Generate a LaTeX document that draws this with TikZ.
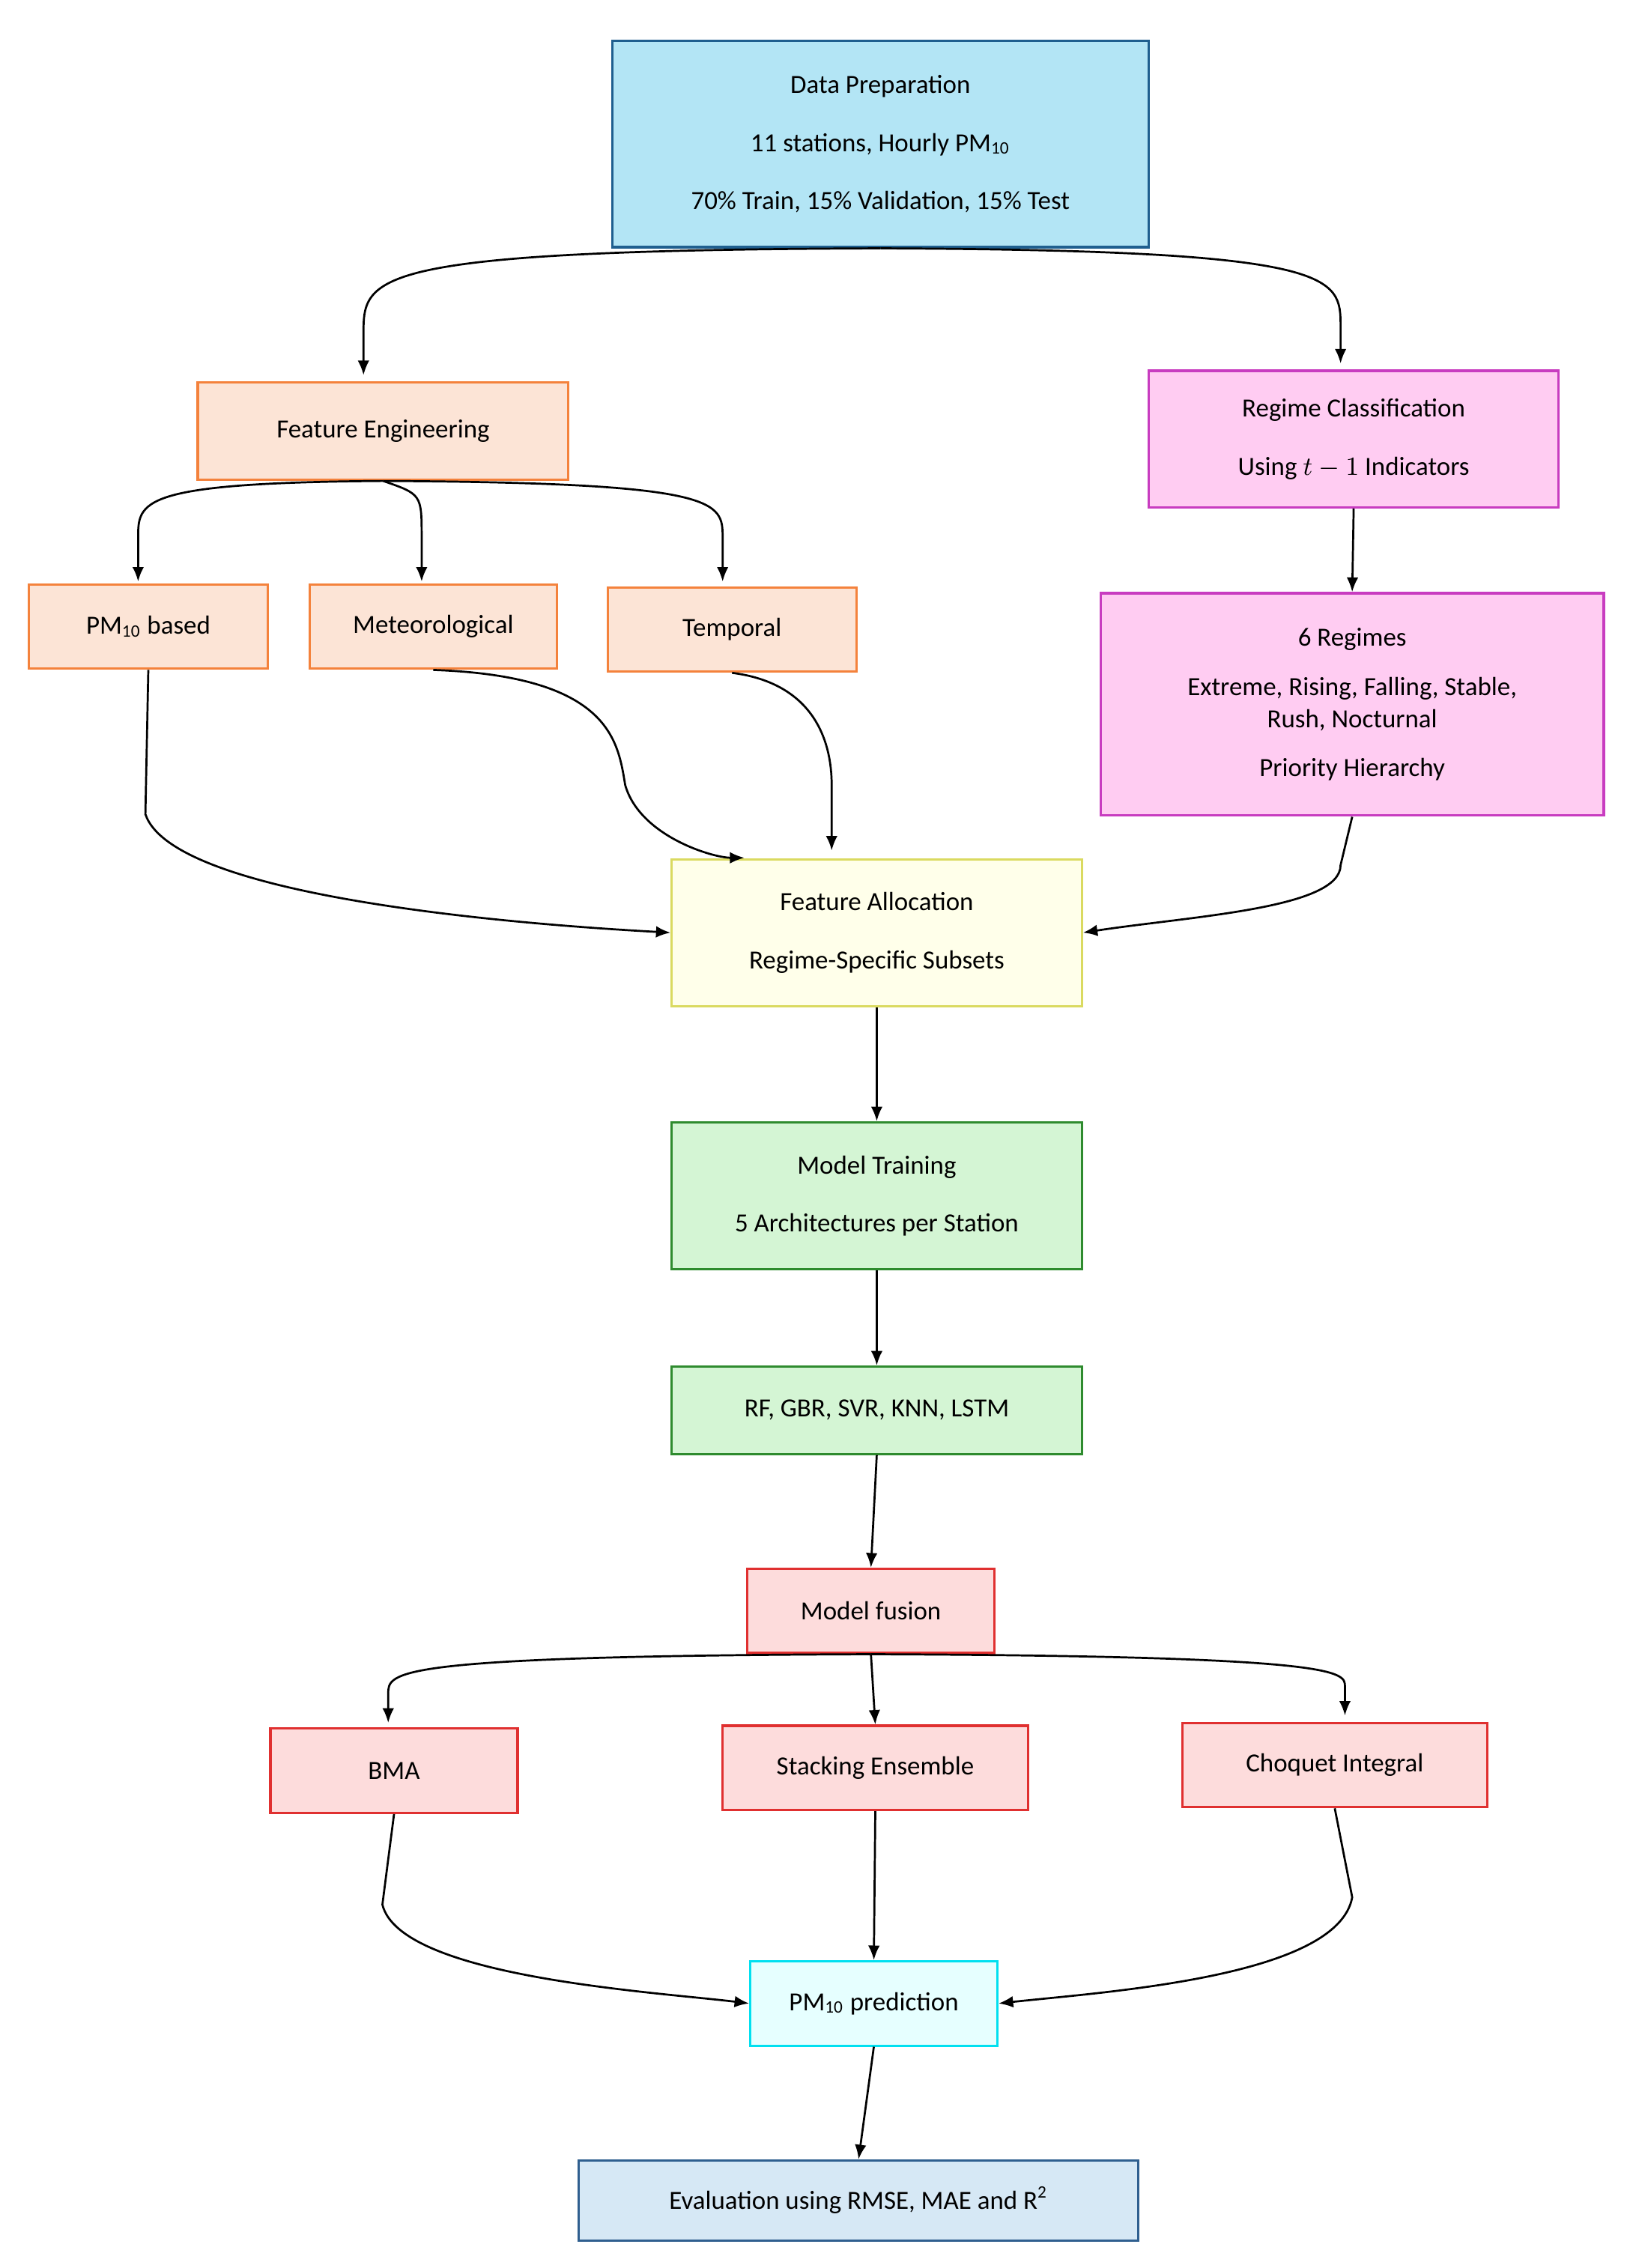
\documentclass[tikz,border=0pt]{standalone}
\usepackage{fontspec}
\setmainfont{Carlito}
\usetikzlibrary{arrows.meta}
\definecolor{dpf}{HTML}{B3E5F5}\definecolor{dpb}{HTML}{1F5F8F}
\definecolor{orf}{HTML}{FCE4D6}\definecolor{orb}{HTML}{F4823C}
\definecolor{pkf}{HTML}{FFCCF2}\definecolor{pkb}{HTML}{C83CC0}
\definecolor{ylf}{HTML}{FFFFEA}\definecolor{ylb}{HTML}{DADA60}
\definecolor{grf}{HTML}{D4F5D4}\definecolor{grb}{HTML}{2E8B2E}
\definecolor{rdf}{HTML}{FDDCDC}\definecolor{rdb}{HTML}{E03030}
\definecolor{cyf}{HTML}{E6FFFF}\definecolor{cyb}{HTML}{00E0F0}
\definecolor{evf}{HTML}{D6E8F5}\definecolor{evb}{HTML}{2F5F8F}
\tikzset{
 box/.style={draw, line width=0.8pt, align=center, inner sep=1pt, font=\fontsize{9}{11}\selectfont},
 arr/.style={-{Latex[length=5pt,width=4pt]}, line width=0.7pt},
}
\newcommand{\bx}[7]{\node[box,#6,minimum width={(#3-#2)*0.5pt},minimum height={(#5-#4)*0.5pt}] (#1) at ({(#2+#3)/2},{(#4+#5)/2}) {#7};}
\begin{document}
\begin{tikzpicture}[x=0.5pt,y=-0.5pt]
\useasboundingbox (0,0) rectangle (1123,1560);
\bx{dp}{421}{790}{28}{170}{fill=dpf,draw=dpb}{Data Preparation\\[9pt]11 stations, Hourly PM\textsubscript{10}\\[9pt]70\% Train, 15\% Validation, 15\% Test}
\bx{fe}{136}{391}{263}{330}{fill=orf,draw=orb}{Feature Engineering}
\bx{rc}{790}{1072}{255}{349}{fill=pkf,draw=pkb}{Regime Classification\\[9pt]Using $t-1$ Indicators}
\bx{pm}{20}{184}{402}{460}{fill=orf,draw=orb}{PM\textsubscript{10} based}
\bx{met}{213}{383}{402}{460}{fill=orf,draw=orb}{Meteorological}
\bx{tmp}{418}{589}{404}{462}{fill=orf,draw=orb}{Temporal}
\bx{reg}{757}{1103}{408}{561}{fill=pkf,draw=pkb}{6 Regimes\\[6pt]Extreme, Rising, Falling, Stable,\\Rush, Nocturnal\\[6pt]Priority Hierarchy}
\bx{fa}{462}{744}{591}{692}{fill=ylf,draw=ylb}{Feature Allocation\\[9pt]Regime-Specific Subsets}
\bx{mt}{462}{744}{772}{873}{fill=grf,draw=grb}{Model Training\\[9pt]5 Architectures per Station}
\bx{rf}{462}{744}{940}{1000}{fill=grf,draw=grb}{RF, GBR, SVR, KNN, LSTM}
\bx{mf}{514}{684}{1079}{1137}{fill=rdf,draw=rdb}{Model fusion}
\bx{bma}{186}{356}{1189}{1247}{fill=rdf,draw=rdb}{BMA}
\bx{st}{497}{707}{1187}{1245}{fill=rdf,draw=rdb}{Stacking Ensemble}
\bx{ch}{813}{1023}{1185}{1243}{fill=rdf,draw=rdb}{Choquet Integral}
\bx{pr}{516}{686}{1349}{1407}{fill=cyf,draw=cyb}{PM\textsubscript{10} prediction}
\bx{ev}{398}{783}{1486}{1541}{fill=evf,draw=evb}{Evaluation using RMSE, MAE and R\textsuperscript{2}}
\coordinate (c1) at (250,258); \coordinate (c2) at (922,250);
\coordinate (c3) at (95,400); \coordinate (c4) at (290,400); \coordinate (c5) at (497,400);
\coordinate (c6) at (512,590); \coordinate (c7) at (572,585);
\coordinate (c8) at (267,1185); \coordinate (c9) at (925,1180);
\draw[arr] (dp.south) .. controls (250,172) and (250,190) .. (250,230) -- (c1);
\draw[arr] (dp.south) .. controls (922,172) and (922,190) .. (922,225) -- (c2);
\draw[arr] (fe.south) .. controls (95,332) and (95,345) .. (95,370) -- (c3);
\draw[arr] (fe.south) .. controls (290,340) .. (290,370) -- (c4);
\draw[arr] (fe.south) .. controls (497,332) and (497,345) .. (497,370) -- (c5);
\draw[arr] (rc.south) -- (reg.north);
\draw[arr] (pm.south) -- (100,560) .. controls (120,620) and (380,637) .. (fa.west);
\draw[arr] (met.south) .. controls (420,465) and (425,510) .. (430,540) .. controls (440,575) and (490,590) .. (c6);
\draw[arr] (tmp.south) .. controls (560,470) and (572,510) .. (572,540) -- (c7);
\draw[arr] (reg.south) -- (922,595) .. controls (922,625) and (820,630) .. (fa.east);
\draw[arr] (fa.south) -- (mt.north);
\draw[arr] (mt.south) -- (rf.north);
\draw[arr] (rf.south) -- (mf.north);
\draw[arr] (mf.south) .. controls (267,1139) and (267,1150) .. (267,1165) -- (c8);
\draw[arr] (mf.south) -- (st.north);
\draw[arr] (mf.south) .. controls (925,1139) and (925,1150) .. (925,1160) -- (c9);
\draw[arr] (bma.south) -- (263,1310) .. controls (275,1360) and (450,1370) .. (pr.west);
\draw[arr] (st.south) -- (pr.north);
\draw[arr] (ch.south) -- (930,1305) .. controls (920,1360) and (760,1370) .. (pr.east);
\draw[arr] (pr.south) -- (ev.north);
\end{tikzpicture}
\end{document}
